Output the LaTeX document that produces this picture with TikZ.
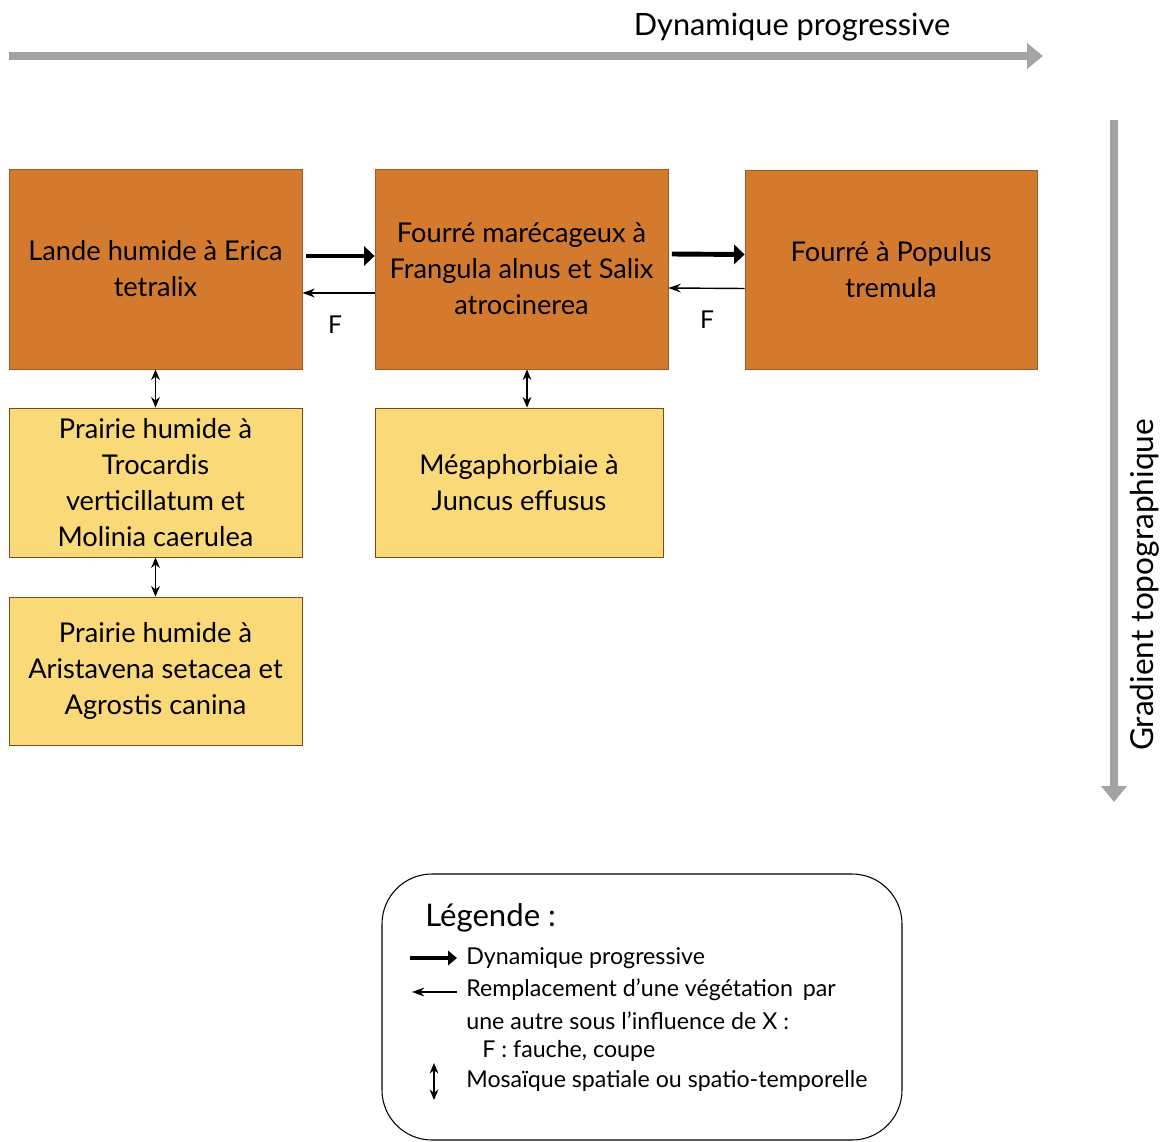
\documentclass[tikz,border=0pt]{standalone}
\usepackage{fontspec}
\setmainfont{Lato}
\usetikzlibrary{arrows.meta,positioning}

\definecolor{shrub}{HTML}{D47A2F}
\definecolor{meadow}{HTML}{FAD978}
\definecolor{axisgray}{HTML}{A3A3A3}

\begin{document}
\begin{tikzpicture}[x=0.02cm,y=-0.02cm,
    shrubbox/.style={draw=shrub!75!black, line width=0.5pt, fill=shrub, align=center,
        inner sep=0pt, font=\fontsize{15.5}{20.4}\selectfont},
    meadowbox/.style={draw=shrub!60!black, line width=0.5pt, fill=meadow, align=center,
        inner sep=0pt, font=\fontsize{15.5}{20.4}\selectfont},
    progarrow/.style={line width=2.8pt, -{Triangle[length=6pt,width=11pt]}},
    backarrow/.style={line width=0.8pt, -{Stealth[length=7pt,width=5pt]}},
    mosaic/.style={line width=0.8pt, {Stealth[length=6pt,width=5pt]}-{Stealth[length=6pt,width=5pt]}},
    axisarrow/.style={axisgray, line width=4.5pt, -{Triangle[length=9pt,width=14pt]}},
    legtext/.style={anchor=west, inner sep=0pt, font=\fontsize{13.2}{16}\selectfont}]

    % Frame of the picture
    \useasboundingbox (0,0) rectangle (1166,1142);

    % Axes
    \coordinate (dynL) at (9,56);
    \coordinate (dynR) at (1043,56);
    \coordinate (topoT) at (1114,120);
    \coordinate (topoB) at (1114,802);
    \draw[axisarrow] (dynL) -- (dynR);
    \draw[axisarrow] (topoT) -- (topoB);
    \node[font=\fontsize{17.5}{21}\selectfont] (dyntitle) at (792,27) {Dynamique progressive};
    \node[font=\fontsize{18}{21}\selectfont, rotate=90] (topotitle) at (1145,585) {Gradient topographique};

    % Vegetation boxes
    \node[shrubbox, minimum width=5.86cm, minimum height=4cm] (lande) at (155.5,269)
        {Lande humide à Erica\\tetralix};
    \node[shrubbox, minimum width=5.86cm, minimum height=4cm] (fourre) at (521.5,269)
        {Fourré marécageux à\\Frangula alnus et Salix\\atrocinerea};
    \node[shrubbox, minimum width=5.84cm, minimum height=3.98cm] (populus) at (891,269.5)
        {Fourré à Populus\\tremula};
    \node[meadowbox, minimum width=5.86cm, minimum height=2.98cm] (trocardis) at (155.5,482.5)
        {Prairie humide à\\Trocardis\\verticillatum et\\Molinia caerulea};
    \node[meadowbox, minimum width=5.76cm, minimum height=2.98cm] (megaph) at (519,482.5)
        {Mégaphorbiaie à\\Juncus effusus};
    \node[meadowbox, minimum width=5.86cm, minimum height=2.96cm] (aristav) at (155.5,671)
        {Prairie humide à\\Aristavena setacea et\\Agrostis canina};

    % Progressive dynamics
    \draw[progarrow] ([yshift=0.26cm,xshift=2pt]lande.east) -- ([yshift=0.26cm]fourre.west);
    \draw[progarrow] ([yshift=0.3cm,xshift=2pt]fourre.east) -- ([yshift=0.3cm]populus.west);

    % Replacement by mowing
    \draw[backarrow] ([yshift=-0.48cm]fourre.west) -- ([yshift=-0.48cm]lande.east);
    \draw[backarrow] ([yshift=-0.38cm]populus.west) -- ([yshift=-0.38cm]fourre.east);
    \node[font=\fontsize{14}{17}\selectfont] (mowA) at (335,325) {F};
    \node[font=\fontsize{14}{17}\selectfont] (mowB) at (707,320) {F};

    % Mosaics
    \draw[mosaic] (lande.south) -- (trocardis.north);
    \draw[mosaic] (trocardis.south) -- (aristav.north);
    \draw[mosaic] ([xshift=0.11cm]fourre.south) -- ([xshift=0.11cm]fourre.south |- megaph.north);

    % Legend
    \draw[line width=0.6pt, rounded corners=1cm] (382,874) rectangle (902,1140);
    \node[anchor=west, inner sep=0pt, font=\fontsize{17.7}{21}\selectfont] (legtitle) at (425,918) {Légende :};
    \coordinate (legA1) at (410,958);
    \coordinate (legA2) at (457,958);
    \coordinate (legB1) at (457,992);
    \coordinate (legB2) at (412,992);
    \coordinate (legC1) at (434,1063);
    \coordinate (legC2) at (434,1100);
    \draw[line width=2.2pt, -{Triangle[length=5pt,width=8pt]}] (legA1) -- (legA2);
    \draw[backarrow] (legB1) -- (legB2);
    \draw[mosaic] (legC1) -- (legC2);
    \node[legtext] (legprog) at (466,958) {Dynamique progressive};
    \node[legtext] (legrepl) at (466,990) {Remplacement d’une végétation\, par};
    \node[legtext] (legrepl2) at (466,1021) {une autre sous l’influence de X :};
    \node[legtext] (legmow) at (482,1051) {F : fauche, coupe};
    \node[legtext] (legmosaic) at (466,1081) {Mosaïque spatiale ou spatio-temporelle};

\end{tikzpicture}
\end{document}
